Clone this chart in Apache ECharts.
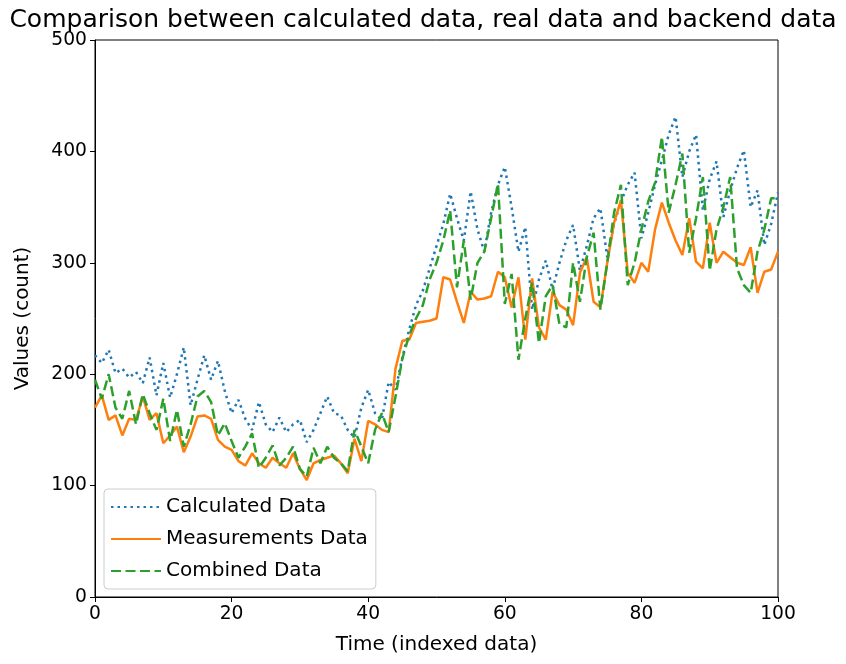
<!DOCTYPE html>
<html>
<head>
<meta charset="utf-8">
<script src="https://cdn.jsdelivr.net/npm/echarts@6/dist/echarts.min.js"></script>
<style>
  html, body { margin: 0; padding: 0; background: #fff; }
  #chart { width: 846px; height: 664px; }
</style>
</head>
<body>
<div id="chart"></div>
<script>
// values, index 0..100
var calculated = [217, 210, 222, 201, 205, 197, 202, 192, 215, 181,
  210, 179, 200, 224, 172, 195, 217, 195, 212, 185,
  165, 177, 160, 150, 175, 155, 148, 161, 148, 155,
  159, 139, 150, 165, 180, 165, 163, 150, 143, 170,
  186, 165, 159, 193, 186, 215, 240, 262, 275, 295,
  315, 335, 362, 340, 320, 364, 330, 310, 345, 370,
  386, 350, 310, 332, 258, 285, 302, 276, 300, 320,
  334, 293, 315, 340, 349, 305, 335, 355, 370, 381,
  322, 345, 370, 392, 415, 431, 377, 400, 415, 347,
  375, 391, 341, 365, 385, 401, 350, 365, 316, 335, 363];

var measurements = [170, 181, 159, 163, 145, 160, 159, 180, 159, 165,
  138, 145, 153, 130, 144, 162, 163, 160, 141, 135,
  132, 122, 118, 129, 120, 116, 125, 120, 116, 129,
  115, 105, 120, 123, 125, 127, 120, 111, 142, 122,
  158, 155, 150, 148, 205, 230, 231, 246, 247, 248,
  250, 287, 285, 265, 246, 274, 267, 268, 270, 292,
  287, 260, 287, 231, 286, 242, 231, 274, 262, 258,
  244, 291, 305, 265, 260, 300, 336, 356, 291, 282,
  300, 292, 330, 354, 336, 320, 307, 340, 301, 295,
  336, 300, 310, 305, 300, 298, 314, 273, 292, 294, 310];

var combined = [195, 178, 200, 170, 160, 185, 155, 182, 165, 150,
  178, 140, 168, 135, 155, 180, 185, 175, 145, 156,
  140, 125, 135, 147, 116, 125, 136, 118, 125, 135,
  115, 108, 134, 120, 135, 125, 120, 113, 150, 135,
  120, 150, 165, 148, 180, 214, 235, 250, 262, 285,
  300, 320, 347, 278, 320, 267, 300, 310, 340, 371,
  263, 290, 213, 250, 282, 228, 270, 280, 245, 242,
  300, 265, 305, 327, 258, 300, 345, 370, 280, 300,
  330, 355, 372, 413, 345, 370, 398, 309, 340, 377,
  293, 330, 350, 377, 295, 280, 273, 310, 330, 358, 358];

var xTicks = [0, 20, 40, 60, 80, 100];
var yTicks = [0, 100, 200, 300, 400, 500];

function pairs(arr) {
    return arr.map(function(v, i) { return [i, v]; });
}

var font = 'DejaVu Sans';

var myChart = echarts.init(document.getElementById('chart'));

var option = {
    animation: false,
    backgroundColor: '#fff',
    title: {
        text: 'Comparison between calculated data, real data and backend data',
        left: 'center',
        top: 3,
        textStyle: { fontFamily: font, fontSize: 25, fontWeight: 'normal', color: '#000' }
    },
    legend: {
        left: 104,
        top: 489,
        orient: 'vertical',
        itemWidth: 50,
        itemHeight: 12,
        itemGap: 12,
        padding: [8, 8, 8, 6],
        borderColor: '#ccc',
        borderWidth: 1,
        borderRadius: 4,
        backgroundColor: 'rgba(255,255,255,0.8)',
        itemStyle: { opacity: 0 },
        textStyle: { fontFamily: font, fontSize: 20, color: '#000' },
        data: ['Calculated Data', 'Measurements Data', 'Combined Data']
    },
    grid: {
        left: 95,
        right: 68,
        top: 40,
        bottom: 67,
        show: true,
        borderColor: '#000',
        borderWidth: 1,
        containLabel: false
    },
    xAxis: {
        type: 'value',
        min: xTicks[0],
        max: xTicks[xTicks.length - 1],
        interval: 20,
        name: 'Time (indexed data)',
        nameLocation: 'middle',
        nameGap: 38,
        nameTextStyle: { fontFamily: font, fontSize: 20, color: '#000' },
        axisLine: { lineStyle: { color: '#000' } },
        axisTick: { length: 5, lineStyle: { color: '#000' } },
        axisLabel: { fontFamily: font, fontSize: 18.7, color: '#000', margin: 8 },
        splitLine: { show: false }
    },
    yAxis: {
        type: 'value',
        min: yTicks[0],
        max: yTicks[yTicks.length - 1],
        interval: 100,
        name: 'Values (count)',
        nameLocation: 'middle',
        nameGap: 62,
        nameTextStyle: { fontFamily: font, fontSize: 20, color: '#000' },
        axisLine: { show: true, lineStyle: { color: '#000' } },
        axisTick: { show: true, length: 5, lineStyle: { color: '#000' } },
        axisLabel: { fontFamily: font, fontSize: 18.7, color: '#000', margin: 8 },
        splitLine: { show: false }
    },
    series: [{
        name: 'Calculated Data',
        type: 'line',
        symbol: 'none',
        color: '#1f77b4',
        lineStyle: { width: 2.5, type: [2.5, 4] },
        data: pairs(calculated)
    }, {
        name: 'Measurements Data',
        type: 'line',
        symbol: 'none',
        color: '#ff7f0e',
        lineStyle: { width: 2.5, type: 'solid' },
        data: pairs(measurements)
    }, {
        name: 'Combined Data',
        type: 'line',
        symbol: 'none',
        color: '#2ca02c',
        lineStyle: { width: 2.5, type: [10, 4.5] },
        data: pairs(combined)
    }]
};

myChart.setOption(option);

window.addEventListener('resize', function() {
    myChart.resize()
})
</script>
</body>
</html>
